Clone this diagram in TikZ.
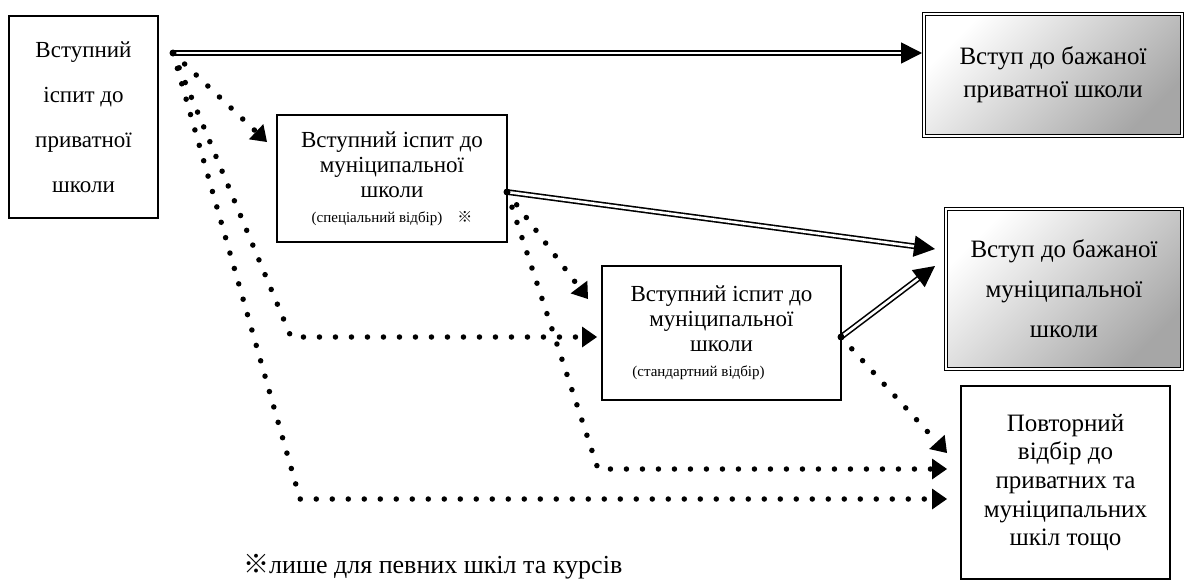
\documentclass[tikz,border=0pt]{standalone}
\usepackage{fontspec}
\setmainfont{Liberation Serif}
\newfontfamily\cjk{Noto Sans CJK JP}
\usepackage{tikz}
\usetikzlibrary{arrows.meta}
\tikzset{>=latex}

\tikzset{
    box/.style={draw, line width=1.2pt, align=center, inner sep=0pt},
    goal/.style={box, double=white, double distance=1.6pt, line width=0.9pt,
        top color=white, bottom color=black!35, shading angle=45},
    pass/.style={line width=1.6pt, double=white, double distance=2.6pt,
        -{Triangle[length=21pt,width=21pt]}},
    fail/.style={line width=5.5pt, dash pattern=on 0pt off 16pt, line cap=round,
        -{Triangle[length=15pt,width=21pt,line width=0pt]}},
}
\newcommand{\refmark}{{\cjk ※}}

\begin{document}
\begin{tikzpicture}[x=1pt,y=-1pt]
    \useasboundingbox (0,0) rectangle (1185,581);

    \coordinate (S1) at (173,53);
    \coordinate (S2) at (507,192);
    \coordinate (S3) at (841,337);
    \coordinate (K1) at (291,337);
    \coordinate (K2) at (300,499);
    \coordinate (K3) at (598,469);

    % Exams
    \node[box, minimum width=149pt, minimum height=202pt,
        font=\fontsize{23}{45}\selectfont] (A) at (83.5,117)
        {Вступний\\іспит до\\приватної\\школи};
    \node[box, minimum width=230pt, minimum height=127pt,
        font=\fontsize{23}{25}\selectfont] (B) at (392,178.5)
        {Вступний іспит до\\муніципальної\\школи\\{\fontsize{15}{18}\selectfont (спеціальний відбір)\quad\refmark}};
    \node[box, minimum width=239pt, minimum height=134pt,
        font=\fontsize{23}{25}\selectfont] (C) at (721.5,333)
        {Вступний іспит до\\муніципальної\\школи\\{\fontsize{15}{18}\selectfont (стандартний відбір)\hspace*{46pt}}};

    % Results
    \node[goal, minimum width=258pt, minimum height=122pt,
        font=\fontsize{25}{33}\selectfont] (P) at (1053,75)
        {Вступ до бажаної\\приватної школи};
    \node[goal, minimum width=236pt, minimum height=160pt,
        font=\fontsize{25}{40}\selectfont] (D) at (1064,289)
        {Вступ до бажаної\\муніципальної\\школи};
    \node[box, minimum width=209pt, minimum height=193pt,
        font=\fontsize{25}{28.7}\selectfont] (E) at (1065.5,482.5)
        {Повторний\\відбір до\\приватних та\\муніципальних\\шкіл тощо};

    % Note
    \node[anchor=base west, inner sep=0pt, font=\fontsize{26}{26}\selectfont] (note)
        at (243,573) {\refmark лише для певних шкіл та курсів};

    % Failed paths
    \draw[fail] (S1) -- (267,142);
    \draw[fail] (S1) -- (K1) -- (597,337);
    \draw[fail] (S1) -- (K2) -- (947,499);
    \draw[fail] (S2) -- (588,299);
    \draw[fail] (S2) -- (K3) -- (947,469);
    \draw[fail] (S3) -- (947,453);

    % Passed paths
    \draw[pass] (S1) -- (922,53);
    \draw[pass] (S2) -- (935,249);
    \draw[pass] (S3) -- (935,266);
    \foreach \s in {S1,S2,S3}
        \fill (\s) circle (3.5pt);
\end{tikzpicture}
\end{document}
